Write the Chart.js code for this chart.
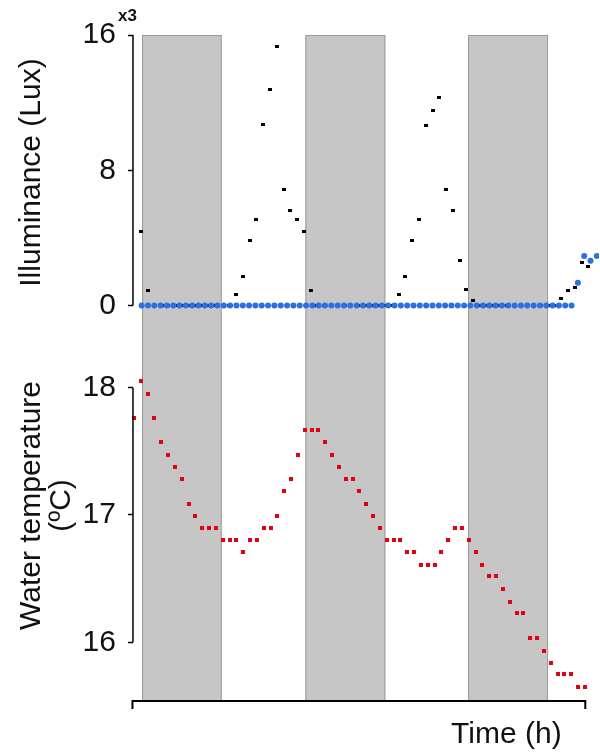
<!DOCTYPE html>
<html>
<head>
<meta charset="utf-8">
<script src="https://cdn.jsdelivr.net/npm/chart.js@4.4.1/dist/chart.umd.min.js"></script>
<style>
  html, body { margin: 0; padding: 0; background: #fff; }
  #wrap { width: 600px; height: 755px; }
</style>
</head>
<body>
<div id="wrap"><canvas id="chart"></canvas></div>
<script>
// Water temperature (ºC), one reading per hour starting at t = 0 h
const waterTemp = [
  17.76, 18.05, 17.95, 17.76, 17.57, 17.47, 17.38, 17.28, 17.09, 16.99,
  16.90, 16.90, 16.90, 16.80, 16.80, 16.80, 16.71, 16.80, 16.80, 16.90,
  16.90, 16.99, 17.19, 17.28, 17.47, 17.67, 17.67, 17.67, 17.57, 17.47,
  17.38, 17.28, 17.28, 17.19, 17.09, 16.99, 16.90, 16.80, 16.80, 16.80,
  16.71, 16.71, 16.61, 16.61, 16.61, 16.71, 16.80, 16.90, 16.90, 16.80,
  16.71, 16.61, 16.52, 16.52, 16.42, 16.32, 16.23, 16.23, 16.03, 16.03,
  15.93, 15.84, 15.75, 15.75, 15.75, 15.65, 15.65
];

// Illuminance, logger 1 (x1000 Lux), hourly
const luxLogger1 = [
  4.35, 0.90, 0, 0, 0, 0, 0, 0, 0, 0, 0, 0, 0, 0,
  0.68, 1.73, 3.83, 5.10, 10.72, 12.75, 15.31, 6.87, 5.63, 5.10, 4.35, 0.90,
  0, 0, 0, 0, 0, 0, 0, 0, 0, 0, 0, 0,
  0.68, 1.73, 3.83, 5.10, 10.62, 11.56, 12.31, 6.87, 5.63, 2.67, 0.96, 0.29,
  0, 0, 0, 0, 0, 0, 0, 0, 0, 0, 0, 0,
  0.44, 0.88, 1.04, 2.56, 2.32
];
const logger1Start = 1.09;   // h
const logger1Step = 0.991;   // h

// Illuminance, logger 2 (x1000 Lux)
const luxLogger2 = [
  0, 0, 0, 0, 0, 0, 0, 0, 0, 0, 0, 0, 0, 0, 0, 0, 0, 0, 0, 0, 0, 0, 0,
  0, 0, 0, 0, 0, 0, 0, 0, 0, 0, 0, 0, 0, 0, 0, 0, 0, 0, 0, 0, 0, 0, 0,
  0, 0, 0, 0, 0, 0, 0, 0, 0, 0, 0, 0, 0, 0, 0, 0, 0, 0, 0, 0, 0, 0, 0,
  1.35, 2.93, 2.65, 2.93
];
const logger2Start = 1.14;
const logger2Step = 0.925;

// dark periods (h)
const nightBands = [[1.2, 12.85], [25.1, 36.8], [48.9, 60.6]];

const luxTicks = [0, 8, 16];
const tempTicks = [16, 17, 18];
const timeRange = [-0.13, 67.47];
const timeAxisEnd = 66.05;

const FONT = '"Liberation Sans", Arial, Helvetica, sans-serif';

function makeMark(w, h, color) {
  const c = document.createElement('canvas');
  c.width = w;
  c.height = h;
  const g = c.getContext('2d');
  g.fillStyle = color;
  g.fillRect(0, 0, w, h);
  return c;
}

const tempPoints = waterTemp.map((v, i) => ({ x: i, y: v }));
const logger1Points = luxLogger1.map((v, i) => ({ x: logger1Start + i * logger1Step, y: v }));
const logger2Points = luxLogger2.map((v, i) => ({ x: logger2Start + i * logger2Step, y: v }));

// night shading and bracket-style axes
const panelAxes = {
  id: 'panelAxes',
  beforeDatasetsDraw(chart) {
    const { ctx, chartArea: a, scales: { x } } = chart;
    ctx.save();
    nightBands.forEach(([from, to]) => {
      const x0 = x.getPixelForValue(from);
      const x1 = x.getPixelForValue(to);
      ctx.fillStyle = '#c6c6c6';
      ctx.fillRect(x0, a.top, x1 - x0, a.bottom - a.top);
      ctx.strokeStyle = '#9a9a9a';
      ctx.lineWidth = 1;
      ctx.strokeRect(x0 + 0.5, a.top + 0.5, x1 - x0 - 1, a.bottom - a.top - 1);
    });
    ctx.restore();
  },
  afterDraw(chart) {
    const { ctx, chartArea: a, scales: { x, yLux, yTemp } } = chart;
    ctx.save();
    ctx.strokeStyle = '#000';
    ctx.lineWidth = 1.5;
    ctx.beginPath();
    ctx.moveTo(a.left, yLux.getPixelForValue(luxTicks[0]));
    ctx.lineTo(a.left, yLux.getPixelForValue(luxTicks[luxTicks.length - 1]));
    ctx.moveTo(a.left, yTemp.getPixelForValue(tempTicks[0]));
    ctx.lineTo(a.left, yTemp.getPixelForValue(tempTicks[tempTicks.length - 1]));
    ctx.stroke();

    const xr = x.getPixelForValue(timeAxisEnd);
    ctx.lineWidth = 2;
    ctx.beginPath();
    ctx.moveTo(a.left - 0.5, a.bottom + 8);
    ctx.lineTo(a.left - 0.5, a.bottom);
    ctx.lineTo(xr, a.bottom);
    ctx.lineTo(xr, a.bottom + 8);
    ctx.stroke();

    ctx.font = 'bold 17px ' + FONT;
    ctx.fillStyle = '#111';
    ctx.textAlign = 'right';
    ctx.textBaseline = 'alphabetic';
    ctx.fillText('x3', a.left + 4, a.top - 14);
    ctx.restore();
  }
};

function leftAxis(title, ticks, range, weight, stackWeight) {
  return {
    type: 'linear',
    position: 'left',
    stack: 'panels',
    stackWeight: stackWeight,
    weight: weight,
    bounds: 'data',
    afterDataLimits: s => { s.min = range[0]; s.max = range[1]; },
    afterBuildTicks: s => { s.ticks = ticks.map(v => ({ value: v })); },
    ticks: {
      color: '#111',
      padding: 12,
      font: { family: FONT, size: 30 },
      callback: v => String(v)
    },
    grid: {
      display: true,
      drawOnChartArea: false,
      drawTicks: true,
      tickLength: 5,
      tickWidth: 1.5,
      tickColor: '#000',
      color: '#000'
    },
    border: { display: false },
    title: {
      display: true,
      text: title,
      color: '#111',
      font: { family: FONT, size: 30, lineHeight: 1 },
      padding: { top: 0, bottom: -6.4 }
    }
  };
}

new Chart(document.getElementById('chart').getContext('2d'), {
  type: 'scatter',
  data: {
    datasets: [
      {
        label: 'Illuminance logger 2',
        data: logger2Points,
        xAxisID: 'x',
        yAxisID: 'yLux',
        order: 0,
        pointStyle: 'circle',
        pointRadius: 3,
        pointBorderWidth: 0,
        backgroundColor: '#2d6fe0',
        borderColor: '#2d6fe0'
      },
      {
        label: 'Illuminance logger 1',
        data: logger1Points,
        xAxisID: 'x',
        yAxisID: 'yLux',
        order: 1,
        pointStyle: makeMark(4, 3, '#000'),
        pointRadius: 2,
        backgroundColor: '#000',
        borderColor: '#000'
      },
      {
        label: 'Water temperature',
        data: tempPoints,
        xAxisID: 'x',
        yAxisID: 'yTemp',
        order: 2,
        pointStyle: makeMark(4, 4, '#e3000f'),
        pointRadius: 2,
        backgroundColor: '#e3000f',
        borderColor: '#e3000f'
      }
    ]
  },
  options: {
    responsive: true,
    maintainAspectRatio: false,
    animation: false,
    layout: { padding: { top: 35, left: 17, right: 0, bottom: 0 } },
    plugins: {
      legend: { display: false },
      tooltip: { enabled: false }
    },
    scales: {
      x: {
        type: 'linear',
        position: 'bottom',
        bounds: 'data',
        afterDataLimits: s => { s.min = timeRange[0]; s.max = timeRange[1]; },
        ticks: { display: false },
        grid: { display: false, drawTicks: false },
        border: { display: false },
        title: {
          display: true,
          text: 'Time (h)    ',
          align: 'end',
          color: '#111',
          font: { family: FONT, size: 30, lineHeight: 1 },
          padding: { top: 19, bottom: 5 }
        }
      },
      yLux: leftAxis('Illuminance (Lux)', luxTicks, [-0.266, 16], 2, 275),
      yTemp: leftAxis(['Water temperature', '(ºC)'], tempTicks, [15.539, 18.61], 1, 391)
    }
  },
  plugins: [panelAxes]
});
</script>
</body>
</html>
